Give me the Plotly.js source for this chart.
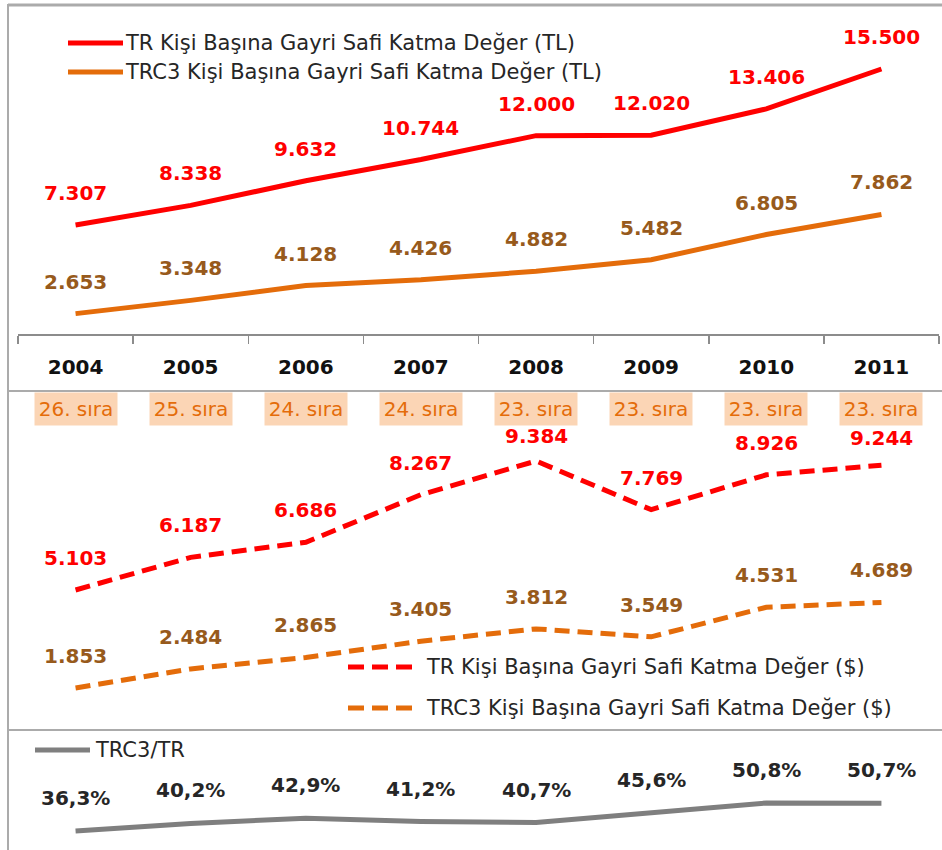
<!DOCTYPE html>
<html>
<head>
<meta charset="utf-8">
<script src="https://cdn.plot.ly/plotly-3.0.1.min.js"></script>
<style>html,body{margin:0;padding:0;background:#fff;}#chart{width:942px;height:850px;}</style>
</head>
<body>
<div id="chart"></div>
<script>
// ---- data ----
const years = ['2004', '2005', '2006', '2007', '2008', '2009', '2010', '2011'];
const trTL = [7307, 8338, 9632, 10744, 12000, 12020, 13406, 15500];
const trc3TL = [2653, 3348, 4128, 4426, 4882, 5482, 6805, 7862];
const trUSD = [5103, 6187, 6686, 8267, 9384, 7769, 8926, 9244];
const trc3USD = [1853, 2484, 2865, 3405, 3812, 3549, 4531, 4689];
const ratio = [36.3, 40.2, 42.9, 41.2, 40.7, 45.6, 50.8, 50.7];
const ranks = ['26. sıra', '25. sıra', '24. sıra', '24. sıra', '23. sıra', '23. sıra', '23. sıra', '23. sıra'];

const seriesNames = {
  trTL: 'TR Kişi Başına Gayri Safi Katma Değer (TL)',
  trc3TL: 'TRC3 Kişi Başına Gayri Safi Katma Değer (TL)',
  trUSD: 'TR Kişi Başına Gayri Safi Katma Değer ($)',
  trc3USD: 'TRC3 Kişi Başına Gayri Safi Katma Değer ($)',
  ratio: 'TRC3/TR'
};

// ---- styling helpers ----
const W = 942, H = 850;
const px = v => v / W;             // pixel -> paper x
const py = v => 1 - v / H;         // pixel -> paper y
const FONT = 'DejaVu Sans, Verdana, sans-serif';
const RED = '#FF0000', ORANGE = '#E46C0A', BROWN = '#975A1C', GRAY = '#7F7F7F', DARK = '#262626';
const BORDER = '#ABABAB';
const DASH = '15px,8px';

const fmtThousands = n => String(n).replace(/\B(?=(\d{3})+(?!\d))/g, '.');
const fmtPct = v => v.toFixed(1).replace('.', ',') + '%';

function lineTrace(y, name, color, yaxis, dash) {
  return {
    x: years, y: y, name: name, type: 'scatter', mode: 'lines',
    yaxis: yaxis, xaxis: 'x', showlegend: false, hoverinfo: 'x+y',
    line: {color: color, width: 5, dash: dash || 'solid', shape: 'linear'},
    cliponaxis: false
  };
}

const traces = [
  lineTrace(trTL, seriesNames.trTL, RED, 'y'),
  lineTrace(trc3TL, seriesNames.trc3TL, ORANGE, 'y'),
  lineTrace(trUSD, seriesNames.trUSD, RED, 'y2', DASH),
  lineTrace(trc3USD, seriesNames.trc3USD, ORANGE, 'y2', DASH),
  lineTrace(ratio, seriesNames.ratio, GRAY, 'y3')
];

// category axis: annotation x is the category's serial index
const annotations = [];
function labels(vals, yref, color, fmt, shift, overrides) {
  vals.forEach((v, i) => {
    annotations.push({
      x: i, y: v, xref: 'x', yref: yref, text: fmt(v), showarrow: false,
      yanchor: 'middle', xanchor: 'center',
      yshift: (overrides && overrides[i] !== undefined) ? overrides[i] : shift,
      font: {family: FONT, size: 20, color: color, weight: 700}
    });
  });
}
labels(trTL, 'y', RED, fmtThousands, 32);
labels(trc3TL, 'y', BROWN, fmtThousands, 32);
labels(trUSD, 'y2', RED, fmtThousands, 32, {4: 25, 7: 27});
labels(trc3USD, 'y2', BROWN, fmtThousands, 32);
labels(ratio, 'y3', DARK, fmtPct, 33);

// rank boxes
ranks.forEach((r, i) => {
  annotations.push({
    x: i, xref: 'x', y: py(409), yref: 'paper', text: r, showarrow: false,
    xanchor: 'center', yanchor: 'middle', bgcolor: '#FBD5B5', width: 82, height: 32,
    borderpad: 0, font: {family: FONT, size: 20, color: ORANGE}
  });
});

// manual legends
const shapes = [];
function legendItem(x0, x1, y, textX, color, dash, text) {
  shapes.push({type: 'line', xref: 'paper', yref: 'paper', x0: px(x0), x1: px(x1), y0: py(y), y1: py(y),
    line: {color: color, width: 5, dash: dash || 'solid'}});
  annotations.push({x: px(textX), y: py(y), xref: 'paper', yref: 'paper', text: text, showarrow: false,
    xanchor: 'left', yanchor: 'middle', font: {family: FONT, size: 21, color: DARK}});
}
legendItem(68, 123, 43, 123, RED, null, seriesNames.trTL);
legendItem(68, 123, 72, 123, ORANGE, null, seriesNames.trc3TL);
legendItem(348, 412, 667, 424, RED, '16px,8px', seriesNames.trUSD);
legendItem(348, 412, 708, 424, ORANGE, '16px,8px', seriesNames.trc3USD);
legendItem(35, 90, 750, 93, GRAY, null, seriesNames.ratio);

// frame + dividers
shapes.push({type: 'line', xref: 'paper', yref: 'paper', x0: px(8), x1: 1, y0: py(5), y1: py(5), line: {color: BORDER, width: 3}});
shapes.push({type: 'line', xref: 'paper', yref: 'paper', x0: px(8), x1: px(8), y0: py(4), y1: 0, line: {color: BORDER, width: 2}});
shapes.push({type: 'line', xref: 'paper', yref: 'paper', x0: px(8), x1: 1, y0: py(391), y1: py(391), line: {color: BORDER, width: 2}});
shapes.push({type: 'line', xref: 'paper', yref: 'paper', x0: px(8), x1: 1, y0: py(730), y1: py(730), line: {color: BORDER, width: 2}});

const hiddenY = {showgrid: false, zeroline: false, showticklabels: false, showline: false, ticks: '', fixedrange: true};

const layout = {
  width: W, height: H,
  margin: {l: 0, r: 0, t: 0, b: 0, pad: 0},
  paper_bgcolor: '#fff', plot_bgcolor: 'rgba(0,0,0,0)',
  showlegend: false,
  font: {family: FONT, color: DARK},
  xaxis: {
    type: 'category', domain: [px(18), px(939)], anchor: 'y', range: [-0.5, 7.5],
    showline: true, linecolor: '#8C8C8C', linewidth: 1.5,
    ticks: 'outside', tickson: 'boundaries', ticklen: 8, tickwidth: 1.5, tickcolor: '#8C8C8C',
    showgrid: false, zeroline: false, ticklabelstandoff: 14,
    tickfont: {family: FONT, size: 20, color: '#111', weight: 700}, fixedrange: true
  },
  yaxis: Object.assign({domain: [py(334), py(5)], range: [1582, 18862]}, hiddenY),
  yaxis2: Object.assign({domain: [py(730), py(391)], range: [456, 11708], anchor: 'x'}, hiddenY),
  yaxis3: Object.assign({domain: [py(850), py(730)], range: [26.46, 88.6], anchor: 'x'}, hiddenY),
  annotations: annotations,
  shapes: shapes
};

Plotly.newPlot('chart', traces, layout, {displayModeBar: false, staticPlot: true});
</script>
</body>
</html>
